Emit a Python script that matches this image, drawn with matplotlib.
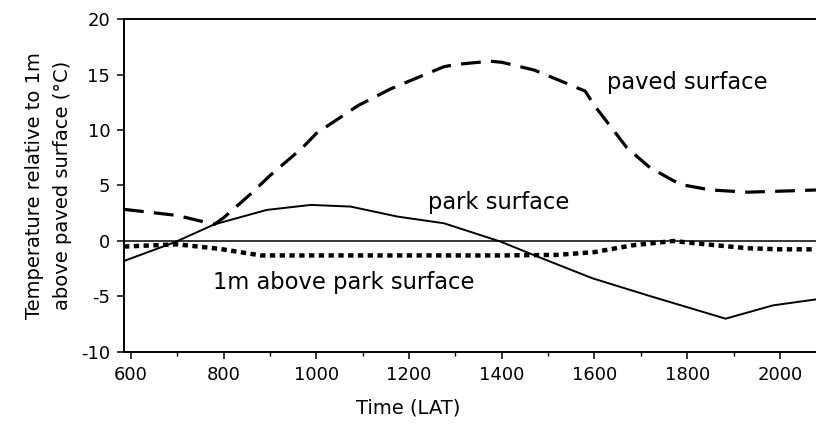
import matplotlib.pyplot as plt
from matplotlib.ticker import MultipleLocator

plt.rcParams['axes.unicode_minus'] = False

# Hourly temperature differences (°C) relative to 1m above the paved surface
paved_time = [585, 700, 780, 800, 860, 900, 970, 1000, 1090, 1160, 1200, 1275, 1300, 1375, 1400, 1470, 1540, 1580, 1600, 1670, 1720, 1785, 1850, 1930, 2010, 2080]
paved_temp = [2.85, 2.3, 1.5, 2.1, 4.3, 5.9, 8.4, 9.7, 12.2, 13.7, 14.4, 15.7, 15.9, 16.2, 16.1, 15.4, 14.2, 13.5, 12.2, 8.4, 6.6, 5.1, 4.6, 4.4, 4.5, 4.6]

park_time = [585, 695, 780, 893, 988, 1074, 1175, 1275, 1397, 1480, 1595, 1715, 1883, 1985, 2080]
park_temp = [-1.8, -0.1, 1.5, 2.8, 3.25, 3.1, 2.2, 1.6, -0.05, -1.45, -3.35, -4.9, -7.0, -5.8, -5.25]

air_time = [585, 700, 790, 880, 1000, 1200, 1400, 1520, 1600, 1680, 1770, 1840, 1930, 2000, 2080]
air_temp = [-0.5, -0.3, -0.7, -1.3, -1.3, -1.3, -1.3, -1.25, -1.0, -0.4, 0.0, -0.3, -0.65, -0.75, -0.75]

fig = plt.figure(figsize=(8.16, 4.29), dpi=100)
ax = fig.add_axes([0.152, 0.1795, 0.848, 0.7762])

ax.axhline(0, color='black', lw=1.1)
ax.plot(paved_time, paved_temp, color='black', lw=2.3, dashes=(6.2, 3.2), solid_capstyle='butt')
ax.plot(park_time, park_temp, color='black', lw=1.4)
ax.plot(air_time, air_temp, color='black', lw=3.2, dashes=(1.2, 1.0), dash_capstyle='butt')

ax.text(1627, 14.3, 'paved surface', fontsize=16.3, va='center')
ax.text(1241, 3.5, 'park surface', fontsize=16.3, va='center')
ax.text(777, -3.7, '1m above park surface', fontsize=16.3, va='center')

ax.set_xlim(585, 2078)
ax.set_ylim(-10, 20)
ax.xaxis.set_major_locator(MultipleLocator(200))
ax.xaxis.set_minor_locator(MultipleLocator(100))
ax.yaxis.set_major_locator(MultipleLocator(5))
ax.tick_params(axis='both', which='major', direction='out', length=5, width=1.1, labelsize=13, pad=5)
ax.tick_params(axis='x', which='minor', direction='out', length=3, width=1)

ax.spines['right'].set_visible(False)
for side in ['left', 'top', 'bottom']:
    ax.spines[side].set_linewidth(1.4)

ax.set_xlabel('Time (LAT)', fontsize=14)
ax.xaxis.set_label_coords(0.41, -0.14)
ax.set_ylabel('Temperature relative to 1m\nabove paved surface (°C)', fontsize=14, linespacing=1.6)
ax.yaxis.set_label_coords(-0.075, 0.5)

fig.savefig('out.png', dpi=100)
